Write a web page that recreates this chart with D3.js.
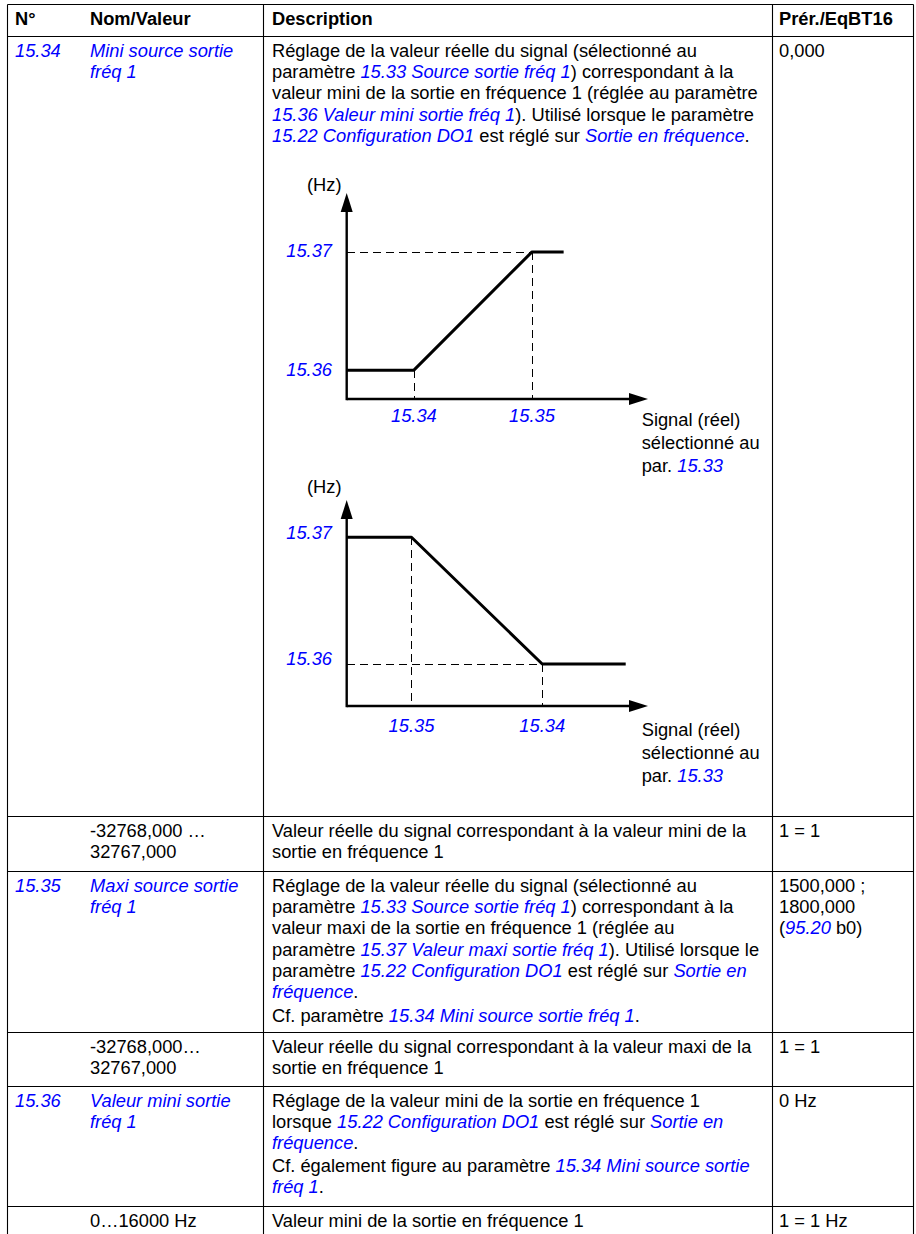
<!DOCTYPE html>
<html><head><meta charset="utf-8">
<script src="https://cdn.jsdelivr.net/npm/d3@7"></script>
<style>
body{margin:0;background:#fff}
svg text{font-family:"Liberation Sans",Arial,Helvetica,sans-serif;font-size:18.3px;fill:#000}
</style>
</head><body>
<svg id="c" width="916" height="1234"></svg>
<script>
// ---------- DATA ----------
// Text segments beginning with "~" are blue italic parameter references.
// A line that is an object {gap:n, t:[...]} starts a new paragraph.
const headers = ["N°", "Nom/Valeur", "Description", "Prér./EqBT16"];
const rowNumbers = ["15.34", "", "15.35", "", "15.36", ""];
const rowNames = [
  [["~Mini source sortie"], ["~fréq 1"]],
  [["-32768,000 …"], ["32767,000"]],
  [["~Maxi source sortie"], ["~fréq 1"]],
  [["-32768,000…"], ["32767,000"]],
  [["~Valeur mini sortie"], ["~fréq 1"]],
  [["0…16000 Hz"]]
];
const rowDescriptions = [
  [["Réglage de la valeur réelle du signal (sélectionné au"],
   ["paramètre ", "~15.33 Source sortie fréq 1", ") correspondant à la"],
   ["valeur mini de la sortie en fréquence 1 (réglée au paramètre"],
   ["~15.36 Valeur mini sortie fréq 1", "). Utilisé lorsque le paramètre"],
   ["~15.22 Configuration DO1", " est réglé sur ", "~Sortie en fréquence", "."]],
  [["Valeur réelle du signal correspondant à la valeur mini de la"],
   ["sortie en fréquence 1"]],
  [["Réglage de la valeur réelle du signal (sélectionné au"],
   ["paramètre ", "~15.33 Source sortie fréq 1", ") correspondant à la"],
   ["valeur maxi de la sortie en fréquence 1 (réglée au"],
   ["paramètre ", "~15.37 Valeur maxi sortie fréq 1", "). Utilisé lorsque le"],
   ["paramètre ", "~15.22 Configuration DO1", " est réglé sur ", "~Sortie en"],
   ["~fréquence", "."],
   {gap: 3, t: ["Cf. paramètre ", "~15.34 Mini source sortie fréq 1", "."]}],
  [["Valeur réelle du signal correspondant à la valeur maxi de la"],
   ["sortie en fréquence 1"]],
  [["Réglage de la valeur mini de la sortie en fréquence 1"],
   ["lorsque ", "~15.22 Configuration DO1", " est réglé sur ", "~Sortie en"],
   ["~fréquence", "."],
   {gap: 1.5, t: ["Cf. également figure au paramètre ", "~15.34 Mini source sortie"]},
   ["~fréq 1", "."]],
  [["Valeur mini de la sortie en fréquence 1"]]
];
const rowDefaults = [
  [["0,000"]],
  [["1 = 1"]],
  [["1500,000 ;"], ["1800,000"], ["(", "~95.20", " b0)"]],
  [["1 = 1"]],
  [["0 Hz"]],
  [["1 = 1 Hz"]]
];

// Diagrams: positions in % of axis length (signal on x, frequency on y)
const yTickLabels = ["15.36", "15.37"];
const yAxisTitle = "(Hz)";
const xAxisTitle = [["Signal (réel)"], ["sélectionné au"], ["par. ", "~15.33"]];

const upXTicks = ["15.34", "15.35"];
const upXValues = [22.3, 61.5];
const upYValues = [14.0, 71.4];
const upCurveX = [0, 22.3, 61.5, 72.0];
const upCurveY = [14.0, 14.0, 71.4, 71.4];

const downXTicks = ["15.35", "15.34"];
const downXValues = [21.5, 64.9];
const downYValues = [20.4, 81.9];
const downCurveX = [0, 21.5, 64.9, 92.6];
const downCurveY = [81.9, 81.9, 20.4, 20.4];

// ---------- LAYOUT ----------
const BLUE = "#0000ff";
const svg = d3.select("#c");
svg.append("rect").attr("width", 916).attr("height", 1234).attr("fill", "#fff");

const colX = [15, 90, 272, 779];
const tableL = 7.5, tableR = 913.5, tableTop = 4.5, headerBottom = 36.5;
const rowTops = [36.5, 816.5, 871.5, 1032.5, 1086.5, 1206.5];
const vLines = [7.5, 263.5, 772.5, 913.5];
const LH = 21.2, FIRST = 20.5;

function richLine(g, x, y, segs, anchor) {
  const t = g.append("text").attr("x", x).attr("y", y);
  if (anchor) t.attr("text-anchor", anchor);
  segs.forEach(s => {
    const link = s.startsWith("~");
    const ts = t.append("tspan").text(link ? s.slice(1) : s);
    if (link) ts.attr("font-style", "italic").style("fill", BLUE);
  });
  return t;
}
function richBlock(g, x, y0, lines) {
  let y = y0;
  lines.forEach(ln => {
    let segs = ln;
    if (!Array.isArray(ln)) { segs = ln.t; y += ln.gap; }
    richLine(g, x, y, segs);
    y += LH;
  });
}

// grid
const grid = svg.append("g").attr("stroke", "#000").attr("stroke-width", 1.1);
[tableTop, headerBottom, ...rowTops.slice(1)].forEach(y =>
  grid.append("line").attr("x1", tableL).attr("x2", tableR).attr("y1", y).attr("y2", y));
vLines.forEach(x =>
  grid.append("line").attr("x1", x).attr("x2", x).attr("y1", tableTop).attr("y2", 1234));

// header
headers.forEach((h, i) =>
  svg.append("text").attr("x", colX[i]).attr("y", 25).attr("font-weight", "bold").text(h));

// rows
rowTops.forEach((top, r) => {
  const y0 = top + FIRST;
  const g = svg.append("g");
  if (rowNumbers[r]) richLine(g, colX[0], y0, ["~" + rowNumbers[r]]);
  richBlock(g, colX[1], y0, rowNames[r]);
  richBlock(g, colX[2], y0, rowDescriptions[r]);
  richBlock(g, colX[3], y0, rowDefaults[r]);
});

// diagrams
function diagram(cfg) {
  const g = svg.append("g");
  const x = d3.scaleLinear().domain([0, 100]).range([346.7, 648]);
  const y = d3.scaleLinear().domain([0, 100]).range([cfg.axisY, cfg.axisY - 206]);
  const AR = 19, AW = 6;
  // axes
  g.append("line").attr("x1", x(0)).attr("x2", x(100) - AR + 1)
    .attr("y1", y(0)).attr("y2", y(0)).attr("stroke", "#000").attr("stroke-width", 2.4);
  g.append("line").attr("x1", x(0)).attr("x2", x(0))
    .attr("y1", y(0) + 1.2).attr("y2", y(100) + AR - 1).attr("stroke", "#000").attr("stroke-width", 2.4);
  g.append("path").attr("d", `M${x(100)},${y(0)} L${x(100) - AR},${y(0) - AW} L${x(100) - AR},${y(0) + AW} Z`).attr("fill", "#000");
  g.append("path").attr("d", `M${x(0)},${y(100)} L${x(0) - AW},${y(100) + AR} L${x(0) + AW},${y(100) + AR} Z`).attr("fill", "#000");

  const pts = cfg.cx.map((v, i) => [v, cfg.cy[i]]);
  // dashed guides
  const dash = g.append("g").attr("stroke", "#000").attr("stroke-width", 1)
    .attr("stroke-dasharray", "8,5").attr("fill", "none").attr("shape-rendering", "crispEdges");
  [pts[1], pts[2]].forEach(p =>
    dash.append("line").attr("x1", Math.round(x(p[0])) + 0.5).attr("x2", Math.round(x(p[0])) + 0.5)
      .attr("y1", y(p[1])).attr("y2", y(0)));
  const hy = Math.round(y(pts[2][1])) + 0.5;
  dash.append("line").attr("x1", x(0)).attr("x2", x(pts[2][0])).attr("y1", hy).attr("y2", hy);

  // curve
  g.append("path").datum(pts)
    .attr("d", d3.line().x(d => x(d[0])).y(d => y(d[1])))
    .attr("fill", "none").attr("stroke", "#000").attr("stroke-width", 3).attr("stroke-linejoin", "round");

  // labels
  g.append("text").attr("x", 341.5).attr("y", cfg.hzY).attr("text-anchor", "end").text(yAxisTitle);
  cfg.yv.forEach((v, i) =>
    richLine(g, 332, y(v) + cfg.yLab, ["~" + yTickLabels[i]], "end"));
  cfg.xv.forEach((v, i) =>
    richLine(g, x(v), y(0) + cfg.xLab, ["~" + cfg.xt[i]], "middle"));
  xAxisTitle.forEach((ln, i) =>
    richLine(g, 641.7, y(0) + cfg.xLab + 4.5 + i * 22.8, ln));
}
diagram({axisY: 399, cx: upCurveX, cy: upCurveY, xv: upXValues, xt: upXTicks, yv: upYValues,
         yLab: 5.5, xLab: 22.7, hzY: 190.5});
diagram({axisY: 706, cx: downCurveX, cy: downCurveY, xv: downXValues, xt: downXTicks, yv: downYValues,
         yLab: 1.5, xLab: 25.7, hzY: 493});
</script>
</body></html>
